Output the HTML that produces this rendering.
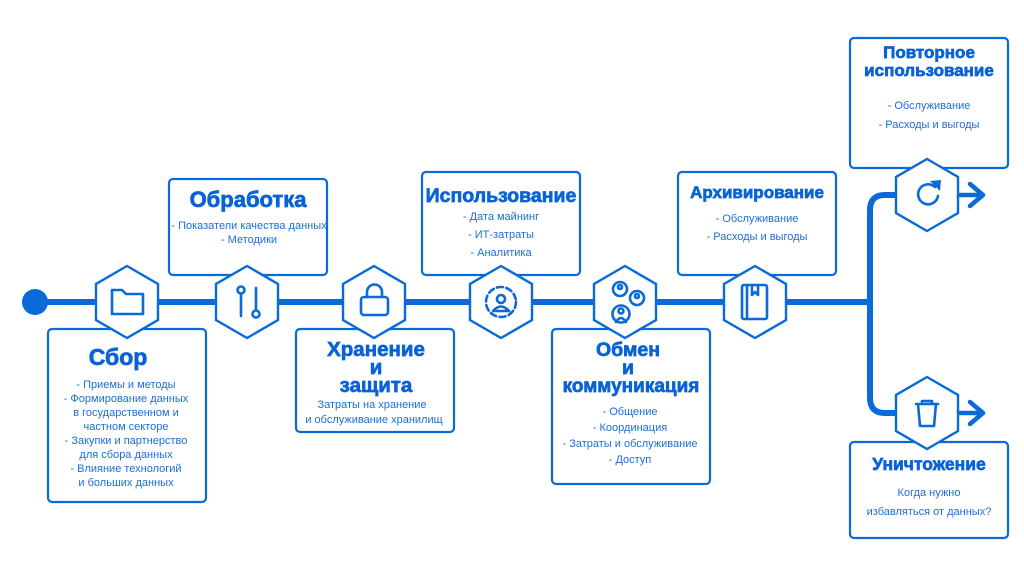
<!DOCTYPE html>
<html><head><meta charset="utf-8">
<style>
html,body{margin:0;padding:0;background:#fff;}
svg{display:block;}
.t{font-family:"Liberation Sans","DejaVu Sans",sans-serif;font-weight:bold;fill:#0a63d6;stroke:#0a63d6;stroke-width:0.7;text-anchor:middle;}
.b{font-family:"Liberation Sans","DejaVu Sans",sans-serif;fill:#1a6fd8;text-anchor:middle;font-size:11px;}
.box{fill:#fff;stroke:#0a6ad8;stroke-width:2.2;}
.hex{fill:#fff;stroke:#0a6ad8;stroke-width:2.4;}
.ic{fill:none;stroke:#0a6ad8;stroke-width:2.6;stroke-linecap:round;stroke-linejoin:round;}
</style></head><body>
<svg width="1024" height="575" viewBox="0 0 1024 575" xmlns="http://www.w3.org/2000/svg">
<defs>
<polygon id="hx" points="0,-36 31,-18 31,18 0,36 -31,18 -31,-18"/>
</defs>
<line x1="35" y1="302" x2="870" y2="302" stroke="#0a6ad8" stroke-width="6"/>
<circle cx="35" cy="302" r="13" fill="#0a6ad8"/>
<path d="M958,195 H885 Q870,195 870,210 V398 Q870,413 885,413 H958" fill="none" stroke="#0a6ad8" stroke-width="6"/>
<path d="M955,195 H982 M970,184 L983,195 L970,206" fill="none" stroke="#0a6ad8" stroke-width="4.5" stroke-linejoin="round" stroke-linecap="round"/>
<path d="M955,413 H982 M970,402 L983,413 L970,424" fill="none" stroke="#0a6ad8" stroke-width="4.5" stroke-linejoin="round" stroke-linecap="round"/>

<rect class="box" x="48" y="329" width="158" height="173" rx="4"/>
<rect class="box" x="169" y="179" width="158" height="96" rx="4"/>
<rect class="box" x="296" y="329" width="158" height="103" rx="4"/>
<rect class="box" x="422" y="172" width="158" height="103" rx="4"/>
<rect class="box" x="552" y="329" width="158" height="155" rx="4"/>
<rect class="box" x="678" y="172" width="158" height="103" rx="4"/>
<rect class="box" x="850" y="38" width="158" height="130" rx="4"/>
<rect class="box" x="850" y="442" width="158" height="96" rx="4"/>

<use href="#hx" class="hex" x="127" y="302"/>
<use href="#hx" class="hex" x="247" y="302"/>
<use href="#hx" class="hex" x="374" y="302"/>
<use href="#hx" class="hex" x="501" y="302"/>
<use href="#hx" class="hex" x="625" y="302"/>
<use href="#hx" class="hex" x="755" y="302"/>
<use href="#hx" class="hex" x="927" y="195"/>
<use href="#hx" class="hex" x="927" y="413"/>

<path class="ic" d="M112,290 h10 l4,4 h17 v20 h-31 z"/>
<g class="ic"><circle cx="241" cy="290" r="3.5"/><line x1="241" y1="294" x2="241" y2="316"/><circle cx="256" cy="314" r="3.5"/><line x1="256" y1="288" x2="256" y2="310"/></g>
<g class="ic"><rect x="361" y="297" width="27" height="18" rx="3"/><path d="M367,297 v-5 a7.5,7.5 0 0 1 15,0 v5"/></g>
<g class="ic" stroke-width="2"><circle cx="501" cy="302" r="15" stroke-dasharray="6 3.5"/><circle cx="501" cy="299" r="4"/><path d="M493,311 q8,-9 16,0 z"/></g>
<g class="ic" stroke-width="1.8"><circle cx="620" cy="289" r="7"/><circle cx="637" cy="298" r="7"/><circle cx="621" cy="314" r="8.5"/><circle cx="620" cy="287" r="2"/><circle cx="637" cy="296" r="2"/><circle cx="621" cy="311" r="2.5"/><path d="M616,322 q5,-8 10,0"/></g>
<g class="ic" stroke-width="2.4"><rect x="742" y="285" width="25" height="34" rx="2"/><line x1="747" y1="285" x2="747" y2="319"/><path d="M752,285 v10 l3,-3 l3,3 v-10"/></g>
<g class="ic" stroke-width="3.5"><path d="M935,187 a10,10 0 1 0 3,9"/></g>
<polygon points="930,181 941,180 940,191" fill="#0a6ad8"/>
<g class="ic" stroke-width="2.4"><path d="M916,404 h22 M922,404 v-3 h10 v3 M918,404 l2,22 h14 l2,-22"/></g>

<text class="t" x="118" y="365" font-size="23">Сбор</text>
<text class="b" x="126" y="388">- Приемы и методы</text>
<text class="b" x="126" y="402">- Формирование данных</text>
<text class="b" x="126" y="416">в государственном и</text>
<text class="b" x="126" y="430">частном секторе</text>
<text class="b" x="126" y="444">- Закупки и партнерство</text>
<text class="b" x="126" y="458">для сбора данных</text>
<text class="b" x="126" y="472">- Влияние технологий</text>
<text class="b" x="126" y="486">и больших данных</text>

<text class="t" x="248" y="207" font-size="22">Обработка</text>
<text class="b" x="249" y="229" font-size="10.5">- Показатели качества данных</text>
<text class="b" x="249" y="243" font-size="10.5">- Методики</text>

<text class="t" x="376" y="356" font-size="20.5">Хранение</text>
<text class="t" x="376" y="374" font-size="20.5">и</text>
<text class="t" x="376" y="392" font-size="20.5">защита</text>
<text class="b" x="372" y="408">Затраты на хранение</text>
<text class="b" x="374" y="423">и обслуживание хранилищ</text>

<text class="t" x="501" y="202" font-size="19.5">Использование</text>
<text class="b" x="501" y="220" font-size="11.5">- Дата майнинг</text>
<text class="b" x="501" y="238" font-size="11.5">- ИТ-затраты</text>
<text class="b" x="501" y="256" font-size="11.5">- Аналитика</text>

<text class="t" x="628" y="356" font-size="19.5">Обмен</text>
<text class="t" x="628" y="374" font-size="19.5">и</text>
<text class="t" x="631" y="392" font-size="19">коммуникация</text>
<text class="b" x="630" y="415">- Общение</text>
<text class="b" x="630" y="431">- Координация</text>
<text class="b" x="630" y="447">- Затраты и обслуживание</text>
<text class="b" x="630" y="463">- Доступ</text>

<text class="t" x="757" y="198" font-size="17">Архивирование</text>
<text class="b" x="757" y="222" font-size="11.5">- Обслуживание</text>
<text class="b" x="757" y="240" font-size="11.5">- Расходы и выгоды</text>

<text class="t" x="929" y="58" font-size="17">Повторное</text>
<text class="t" x="929" y="76" font-size="17">использование</text>
<text class="b" x="929" y="109" font-size="11.5">- Обслуживание</text>
<text class="b" x="929" y="128" font-size="11.5">- Расходы и выгоды</text>

<text class="t" x="929" y="470" font-size="17.5">Уничтожение</text>
<text class="b" x="929" y="496" font-size="11.5">Когда нужно</text>
<text class="b" x="929" y="515" font-size="11.5">избавляться от данных?</text>
</svg>
</body></html>
